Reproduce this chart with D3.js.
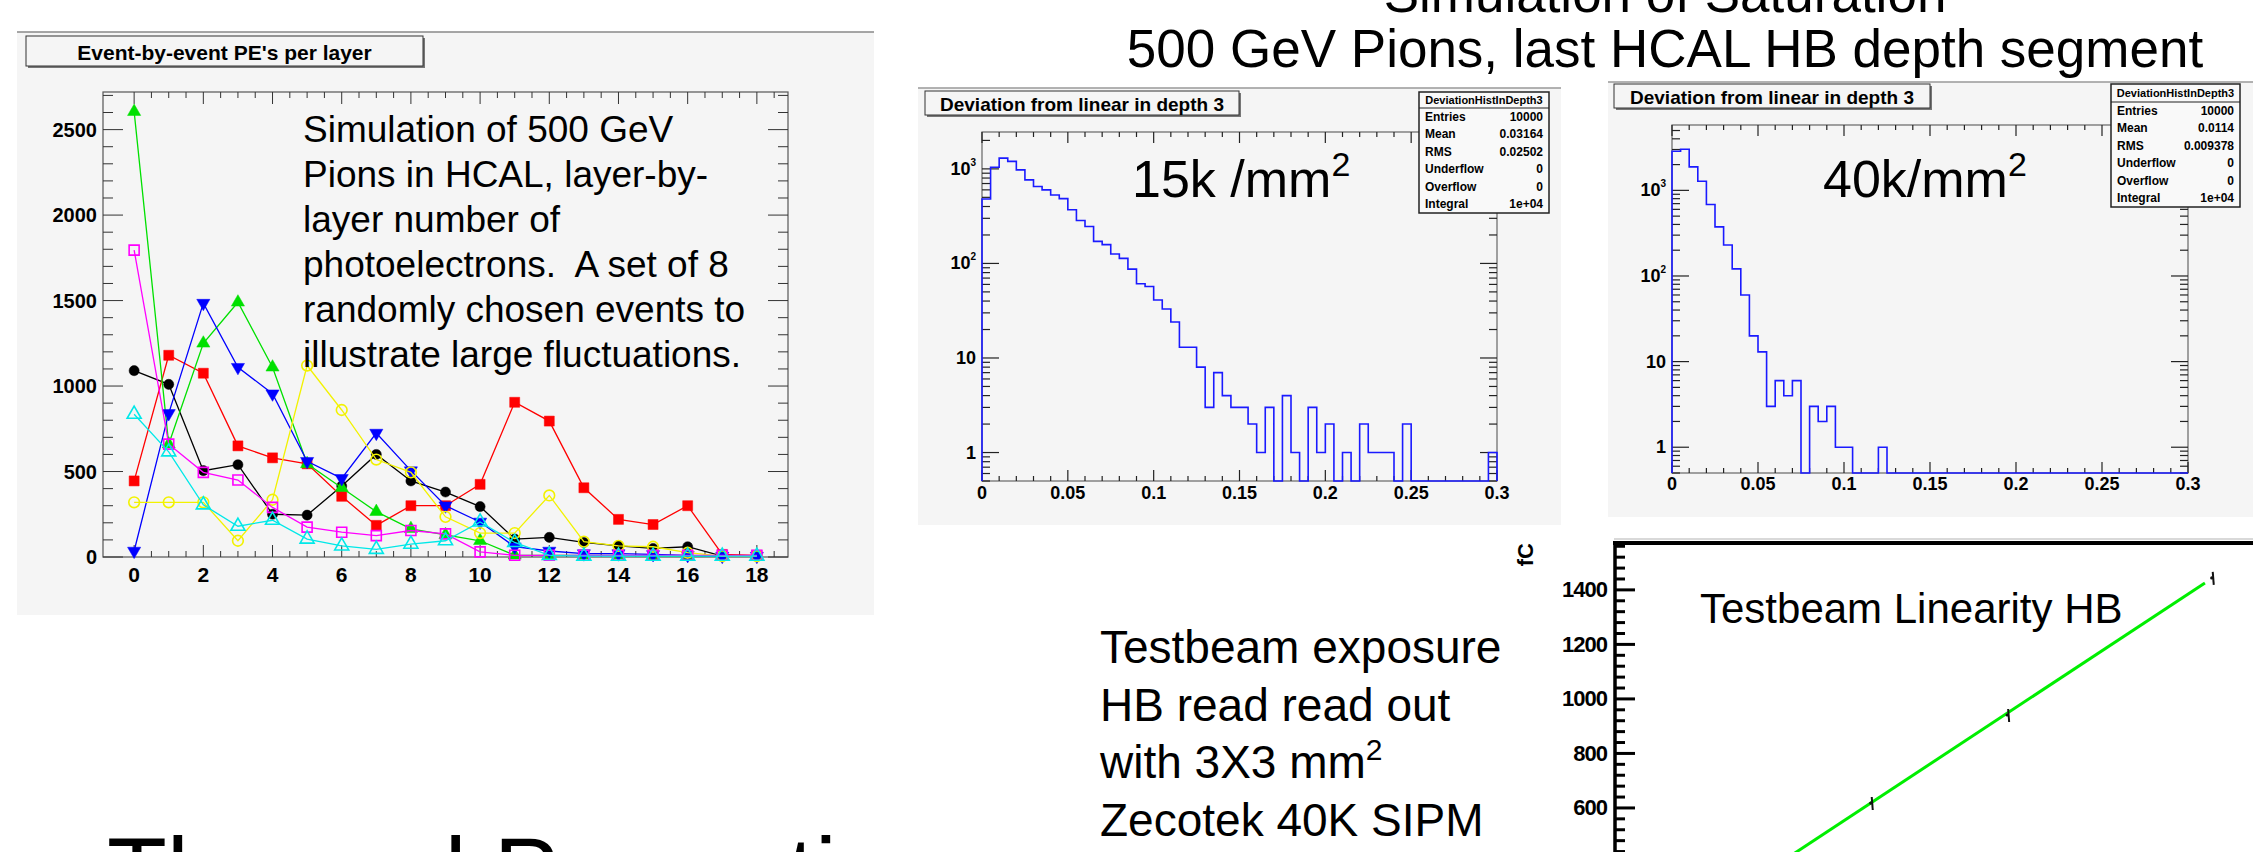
<!DOCTYPE html>
<html><head><meta charset="utf-8">
<script src="https://cdn.jsdelivr.net/npm/d3@7"></script>
<style>
html,body{margin:0;padding:0;background:#fff;}
svg{display:block;}
text{font-family:"Liberation Sans",Arial,Helvetica,sans-serif;fill:#000;white-space:pre;}
</style></head><body>
<svg id="c" width="2253" height="852"></svg>
<script>
// ---------------- DATA ----------------
const layers = [0,1,2,3,4,5,6,7,8,9,10,11,12,13,14,15,16,17,18];
const peBlack   = [1090,1010,505,540,250,245,415,600,445,380,295,105,115,85,65,50,60,5,5];
const peRed     = [445,1180,1075,650,580,545,355,185,300,300,425,905,795,405,220,190,300,15,10];
const peGreen   = [2605,660,1250,1490,1110,545,405,265,165,130,95,10,10,10,10,5,5,5,5];
const peBlue    = [35,840,1485,1110,955,560,460,725,505,300,205,60,35,20,20,15,10,5,5];
const peYellow  = [320,320,320,95,335,1120,860,570,495,235,140,140,360,90,65,60,25,5,5];
const peMagenta = [1795,660,495,450,290,175,145,125,155,135,30,10,10,10,10,10,10,10,10];
const peCyan    = [835,615,305,180,215,105,65,45,75,95,205,85,10,5,5,5,5,5,5];
const layerTicks = [0,2,4,6,8,10,12,14,16,18];
const peTicks = [0,500,1000,1500,2000,2500];

const binWidth = 0.005;
const counts15k = [480,1040,1300,1200,975,765,650,600,530,485,370,285,246,171,158,126,113,87,61,57,
                   41,33,24,13,13,8,3,7,4,3,3,2,1,3,0,4,1,0,3,1,
                   2,0,1,0,2,1,1,1,0,2,0,0,0,0,0,0,0,0,0,1];
const counts40k = [2860,3020,1880,1280,685,375,230,121,60,20,13,3,6,4,6,0,3,2,3,1,
                   1,0,0,0,1,0,0,0,0,0,0,0,0,0,0,0,0,0,0,0,
                   0,0,0,0,0,0,0,0,0,0,0,0,0,0,0,0,0,0,0,0];
const devTicks = [0,0.05,0.1,0.15,0.2,0.25,0.3];
const devTickLabels = ["0","0.05","0.1","0.15","0.2","0.25","0.3"];
const logTicks = [1,10,100,1000];
const statsLabels = ["Entries","Mean","RMS","Underflow","Overflow","Integral"];
const stats15k = ["10000","0.03164","0.02502","0","0","1e+04"];
const stats40k = ["10000","0.0114","0.009378","0","0","1e+04"];

const beamE  = [150,230,350];
const beamFC = [618,941,1444];
const fitSlope = 4.12;
const fitRange = [0,346];
const fcTicks = [400,600,800,1000,1200,1400];

const introLines = ["Simulation of 500 GeV","Pions in HCAL, layer-by-","layer number of","photoelectrons.  A set of 8","randomly chosen events to","illustrate large fluctuations."];

// ---------------- DRAW ----------------
const svg = d3.select("#c");
const PANEL = "#f5f5f5";

function line(g,x1,y1,x2,y2,stroke,w){
  return g.append("line").attr("x1",x1).attr("y1",y1).attr("x2",x2).attr("y2",y2)
    .attr("stroke",stroke).attr("stroke-width",w);
}
function text(g,x,y,s,size,opts={}){
  const t=g.append("text").attr("x",x).attr("y",y).style("font-size",size+"px").text(s);
  if(opts.bold) t.style("font-weight","bold");
  if(opts.anchor) t.attr("text-anchor",opts.anchor);
  if(opts.base) t.attr("dominant-baseline",opts.base);
  return t;
}
function titleBox(g,x,y,w,h,s,size){
  g.append("rect").attr("x",x+2).attr("y",y+2).attr("width",w).attr("height",h).attr("fill","#777");
  g.append("rect").attr("x",x).attr("y",y).attr("width",w).attr("height",h).attr("fill",PANEL)
    .attr("stroke","#333").attr("stroke-width",1);
  text(g,x+w/2,y+h/2+1,s,size,{bold:true,anchor:"middle",base:"central"});
}

// Slide title
text(svg,1665,12,"Simulation of Saturation",53,{anchor:"middle"});
text(svg,1665,67,"500 GeV Pions, last HCAL HB depth segment",53,{anchor:"middle"});

// ===== Left chart =====
{
  const g = svg.append("g");
  g.append("rect").attr("x",17).attr("y",32).attr("width",857).attr("height",583).attr("fill",PANEL);
  line(g,17,32,874,32,"#888",1.5);
  titleBox(g,26,36,397,30,"Event-by-event PE's per layer",21);

  const x = d3.scaleLinear().domain([-0.9,18.9]).range([103,788]);
  const y = d3.scaleLinear().domain([0,2720]).range([557,92]);
  const [fx0,fx1]=x.range(), [fy0,fy1]=y.range();
  g.append("rect").attr("x",fx0).attr("y",fy1).attr("width",fx1-fx0).attr("height",fy0-fy1)
    .attr("fill","none").attr("stroke","#555").attr("stroke-width",1.2);

  d3.range(0,18.9,0.5).forEach(v=>{
    const major = layerTicks.includes(v);
    const len = major?12:6;
    line(g,x(v),fy0,x(v),fy0-len,"#333",1);
    line(g,x(v),fy1,x(v),fy1+len,"#333",1);
  });
  layerTicks.forEach(v=>text(g,x(v),574,String(v),21,{bold:true,anchor:"middle",base:"central"}));
  d3.range(0,2720,100).forEach(v=>{
    const major = peTicks.includes(v);
    const len = major?20:10;
    line(g,fx0,y(v),fx0+len,y(v),"#333",1);
    line(g,fx1,y(v),fx1-len,y(v),"#333",1);
  });
  peTicks.forEach(v=>text(g,97,y(v),String(v),20,{bold:true,anchor:"end",base:"central"}));

  const series = [
    {d:peBlack,c:"#000000",sym:d3.symbolCircle,fill:true,size:80},
    {d:peRed,c:"#ff0000",sym:d3.symbolSquare,fill:true,size:100},
    {d:peGreen,c:"#00e000",sym:d3.symbolTriangle,fill:true,size:75},
    {d:peBlue,c:"#0000ff",sym:d3.symbolTriangle,fill:true,size:75,rot:180},
    {d:peYellow,c:"#f2f200",sym:d3.symbolCircle,fill:false,size:90},
    {d:peMagenta,c:"#ff00ff",sym:d3.symbolSquare,fill:false,size:100},
    {d:peCyan,c:"#00e8e8",sym:d3.symbolTriangle,fill:false,size:85}
  ];
  const ln = d3.line().x((v,i)=>x(layers[i])).y(v=>y(v));
  series.forEach(s=>{
    g.append("path").attr("d",ln(s.d)).attr("fill","none").attr("stroke",s.c).attr("stroke-width",1.3);
    const sym = d3.symbol().type(s.sym).size(s.size);
    g.selectAll(null).data(s.d).enter().append("path")
      .attr("d",sym)
      .attr("transform",(v,i)=>`translate(${x(layers[i])},${y(v)})${s.rot?" rotate(180)":""}`)
      .attr("fill",s.fill?s.c:"none").attr("stroke",s.c).attr("stroke-width",s.fill?0.5:1.6);
  });

  introLines.forEach((s,i)=>text(g,303,142+45*i,s,37));
}

// ===== Histograms =====
function histPanel(cfg){
  const g = svg.append("g");
  g.append("rect").attr("x",cfg.px).attr("y",cfg.py).attr("width",cfg.pw).attr("height",cfg.ph).attr("fill",PANEL);
  line(g,cfg.px,cfg.py,cfg.px+cfg.pw,cfg.py,"#999",1.5);
  const x = d3.scaleLinear().domain([0,0.3]).range(cfg.xr);
  const y = d3.scaleLog().domain(cfg.yd).range(cfg.yr);
  const [fx0,fx1]=x.range(), [fy0,fy1]=y.range();
  g.append("rect").attr("x",fx0).attr("y",fy1).attr("width",fx1-fx0).attr("height",fy0-fy1)
    .attr("fill","none").attr("stroke","#666").attr("stroke-width",1.2);
  d3.range(0,0.3001,0.01).forEach(v=>{
    const major = Math.abs(v/0.05-Math.round(v/0.05))<1e-6;
    const len = major?11:5;
    line(g,x(v),fy0,x(v),fy0-len,"#222",1.2);
    line(g,x(v),fy1,x(v),fy1+len,"#222",1.2);
  });
  devTicks.forEach((v,i)=>text(g,x(v),cfg.xlab,devTickLabels[i],18,{bold:true,anchor:"middle",base:"central"}));
  const [lo,hi]=y.domain();
  for(let dec=0.1; dec<=hi; dec*=10){
    for(let m=1;m<=9;m++){
      const v=dec*m; if(v<lo||v>hi) continue;
      const major = m===1;
      const len = major?17:8;
      line(g,fx0,y(v),fx0+len,y(v),"#222",1.2);
      line(g,fx1,y(v),fx1-len,y(v),"#222",1.2);
    }
  }
  logTicks.forEach(v=>{
    const t = g.append("text").attr("x",fx0-6).attr("y",y(v)).attr("text-anchor","end")
      .attr("dominant-baseline","central").style("font-size","18px").style("font-weight","bold");
    if(v<100){ t.text(String(v)); }
    else {
      t.append("tspan").text("10");
      t.append("tspan").attr("dy",-7).style("font-size","10px").text(String(Math.round(Math.log10(v))));
    }
  });
  const yb = v => v>0 ? y(v) : fy0;
  const pts=[[0,fy0]];
  cfg.counts.forEach((c,i)=>{ pts.push([i*binWidth,yb(c)]); pts.push([(i+1)*binWidth,yb(c)]); });
  pts.push([cfg.counts.length*binWidth,fy0]);
  g.append("path").attr("d",d3.line().x(p=>x(p[0])).y(p=>p[1])(pts))
    .attr("fill","none").attr("stroke","#1a1aff").attr("stroke-width",1.6);
  titleBox(g,cfg.tb[0],cfg.tb[1],cfg.tb[2],cfg.tb[3],"Deviation from linear in depth 3",19);
  const [sx,sy,sw,sh,div]=cfg.sb;
  g.append("rect").attr("x",sx).attr("y",sy).attr("width",sw).attr("height",sh).attr("fill","#f9f9f9")
    .attr("stroke","#222").attr("stroke-width",1.5);
  line(g,sx,div,sx+sw,div,"#222",1.2);
  text(g,sx+sw/2,(sy+div)/2,"DeviationHistInDepth3",11,{bold:true,anchor:"middle",base:"central"});
  const rowH=(sy+sh-div)/6;
  statsLabels.forEach((s,i)=>{
    const yy=div+rowH*(i+0.5);
    text(g,sx+6,yy,s,12,{bold:true,base:"central"});
    text(g,sx+sw-6,yy,cfg.stats[i],12,{bold:true,anchor:"end",base:"central"});
  });
  const bt = g.append("text").attr("x",cfg.lab[0]).attr("y",cfg.lab[1]).style("font-size","52px");
  bt.append("tspan").text(cfg.lab[2]);
  bt.append("tspan").attr("dy",-21).style("font-size","34px").text("2");
  return g;
}
histPanel({px:918,py:88,pw:643,ph:437,xr:[982,1497],yd:[0.5,2455],yr:[481,132],xlab:493,
  counts:counts15k,tb:[925,91,314,24],sb:[1419,92,130,121,108],stats:stats15k,lab:[1132,197,"15k /mm"]});
histPanel({px:1608,py:82,pw:645,ph:435,xr:[1672,2188],yd:[0.5,5800],yr:[473,125],xlab:484,
  counts:counts40k,tb:[1614,84,316,24],sb:[2111,84,129,123,102],stats:stats40k,lab:[1823,197,"40k/mm"]});
line(svg,1614,539,2253,539,"#ccc",1.5);

// ===== Bottom-right: testbeam linearity =====
{
  const g = svg.append("g");
  const x = d3.scaleLinear().domain([0,400]).range([1615,2297]);
  const y = d3.scaleLinear().domain([0,1572]).range([971.5,543]);
  g.append("clipPath").attr("id","clipTB").append("rect").attr("x",1615).attr("y",543).attr("width",700).attr("height",320);
  g.append("path").attr("clip-path","url(#clipTB)")
    .attr("d",d3.line().x(v=>x(v)).y(v=>y(fitSlope*v))(fitRange))
    .attr("stroke","#00ee00").attr("stroke-width",3).attr("fill","none");
  beamE.forEach((e,i)=>{
    line(g,x(e)+1,y(beamFC[i])-6,x(e)+2,y(beamFC[i])+7,"#111",2);
    g.append("circle").attr("cx",x(e)).attr("cy",y(beamFC[i])).attr("r",1.6).attr("fill","#111");
  });
  d3.range(400,1572,40).forEach(v=>{
    const major = fcTicks.includes(v);
    line(g,1615,y(v),1615+(major?20:10),y(v),"#000",3);
  });
  fcTicks.forEach(v=>text(g,1607,y(v),String(v),22,{bold:true,anchor:"end",base:"central"}).style("letter-spacing","-1px"));
  line(g,1615,543,1615,852,"#000",3.5);
  line(g,1613,543,2253,543,"#000",4);
  g.append("text").attr("transform","translate(1533,543) rotate(-90)").attr("text-anchor","end")
    .style("font-size","22px").style("font-weight","bold").text("fC");
  text(g,1700,623,"Testbeam Linearity HB",42);
  const tl = ["Testbeam exposure","HB read read out","with 3X3 mm","Zecotek 40K SIPM"];
  tl.forEach((s,i)=>{
    const t=text(g,1100,663+57.7*i,s,46);
    if(i===2) t.append("tspan").attr("dy",-18).style("font-size","30px").text("2");
  });
}

// ===== Bottom-left partial heading =====
text(svg,107,906,"Thermal Properties",98);
</script>
</body></html>
